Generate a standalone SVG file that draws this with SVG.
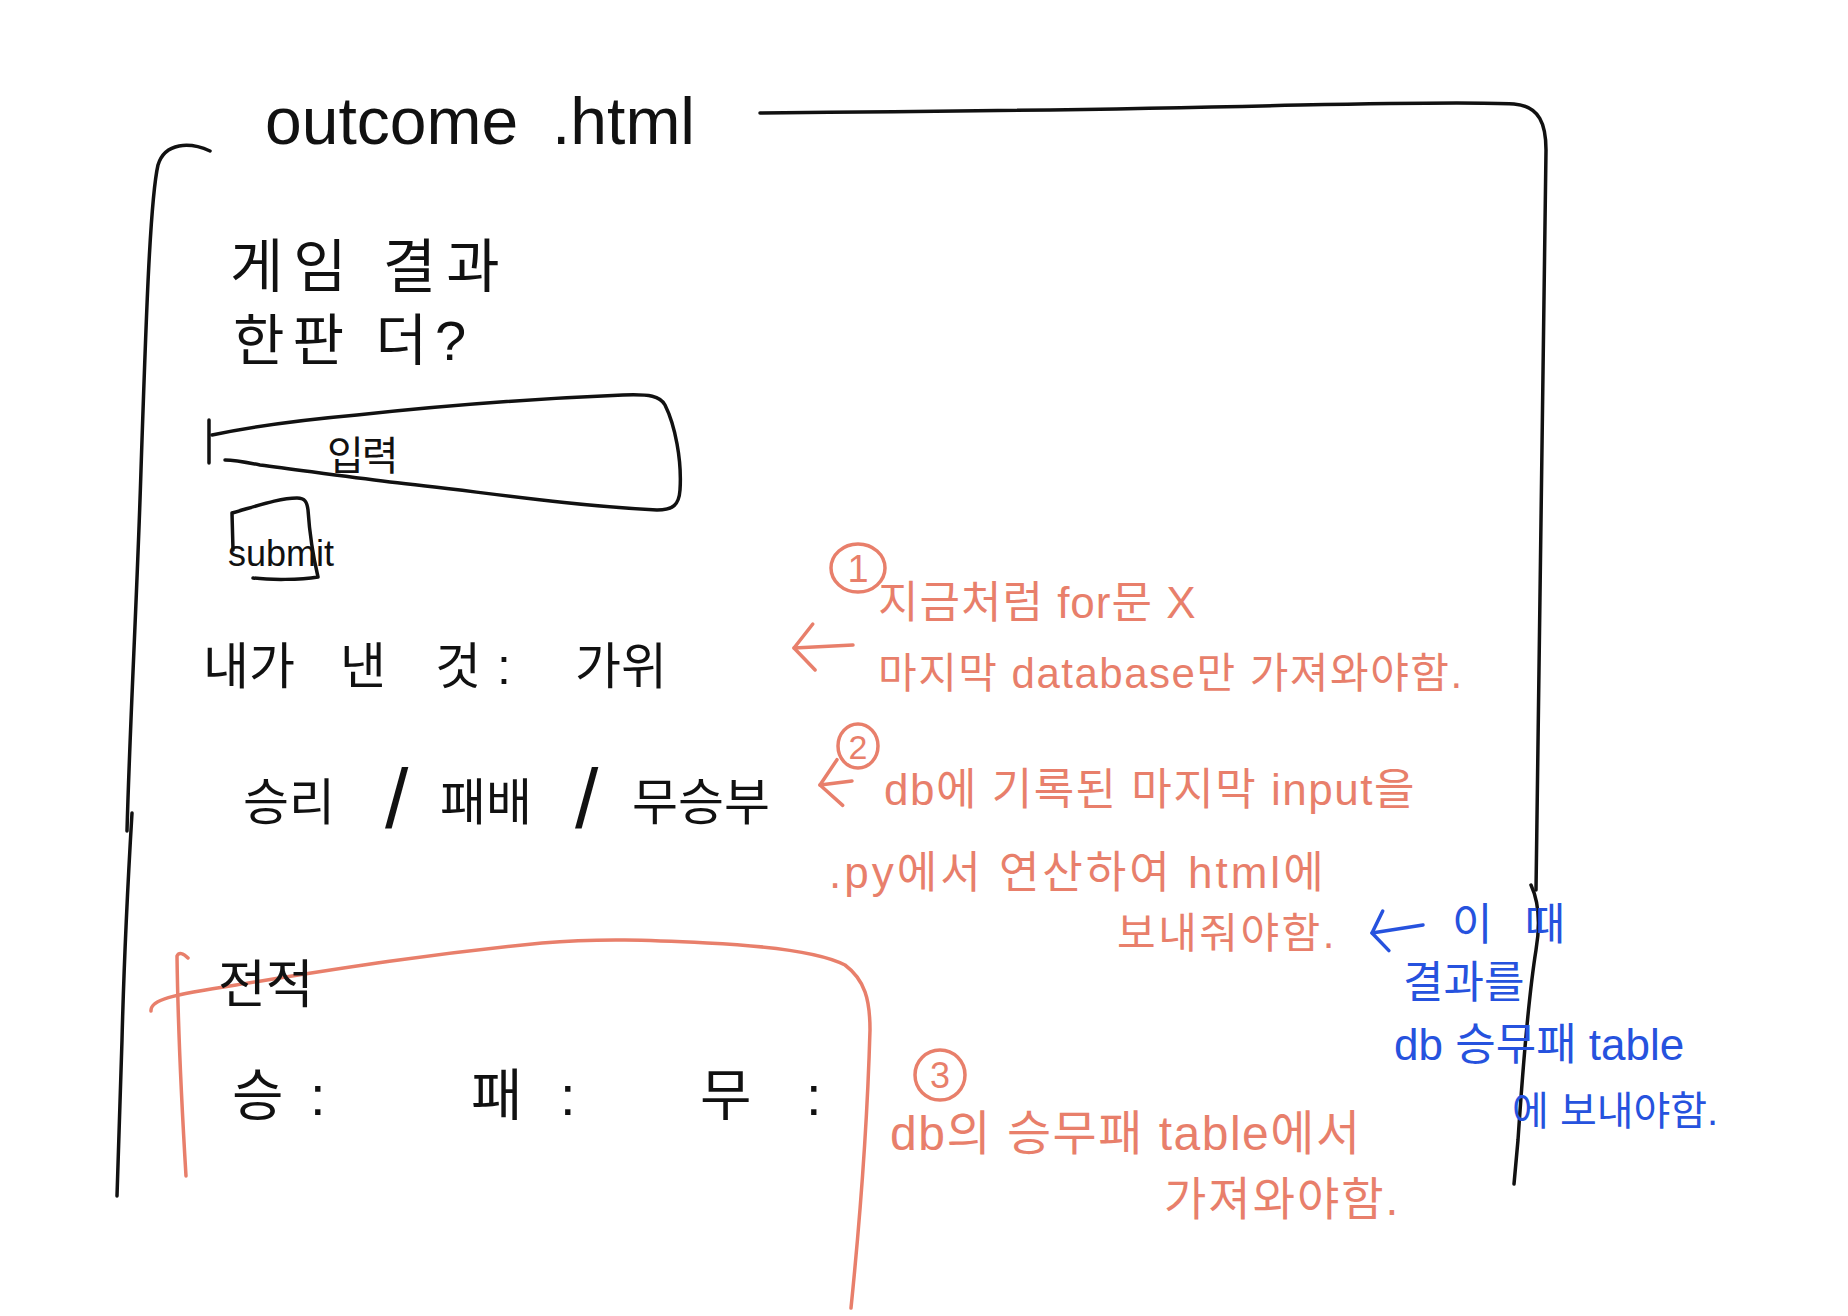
<svg xmlns="http://www.w3.org/2000/svg" width="1848" height="1316" viewBox="0 0 1848 1316">
<style>
.ink{fill:none;stroke:#111;stroke-width:3.5;stroke-linecap:round;stroke-linejoin:round}
.red{fill:none;stroke:#E87F6B;stroke-width:3.5;stroke-linecap:round;stroke-linejoin:round}
.blue{fill:none;stroke:#2652DE;stroke-width:3.5;stroke-linecap:round;stroke-linejoin:round}
text{font-family:"Liberation Sans","Noto Sans CJK KR",sans-serif}
.tb{fill:#111}
.tr{fill:#E87F6B}
.tbl{fill:#2652DE}
</style>
<defs>
<marker id="headRed" viewBox="0 0 24 50" refX="22" refY="25" markerWidth="24" markerHeight="50" markerUnits="userSpaceOnUse" orient="auto" overflow="visible">
<path d="M2,2 L22,25 L2,48" fill="none" stroke="#E87F6B" stroke-width="3.5" stroke-linecap="round" stroke-linejoin="round"/>
</marker>
<marker id="headBlue" viewBox="0 0 18 44" refX="16" refY="22" markerWidth="18" markerHeight="44" markerUnits="userSpaceOnUse" orient="auto" overflow="visible">
<path d="M2,2 L16,22 L2,42" fill="none" stroke="#2652DE" stroke-width="3.5" stroke-linecap="round" stroke-linejoin="round"/>
</marker>
</defs>
<rect width="1848" height="1316" fill="#fff"/>

<g id="page-frame">
<path class="ink" d="M210,151 C190,142 165,142 158,165 C150,200 146,320 141,470 C137,600 130,720 127,831"/>
<path class="ink" d="M132,813 C128,880 124,960 122,1040 C120,1100 118,1150 117,1196"/>
<path class="ink" d="M760,113 C900,112 1100,110 1300,105 C1400,103 1480,102 1514,104 C1540,106 1546,125 1546,150 C1545,300 1540,600 1536,890"/>
<path class="ink" d="M1531,885 C1538,900 1541,920 1536,950 C1528,1000 1522,1080 1518,1140 L1514,1184"/>
</g>

<g id="title">
<text class="tb" x="265" y="144" font-size="66">outcome</text>
<text class="tb" x="552" y="144" font-size="66">.html</text>
</g>

<g id="heading">
<text class="tb" x="230" y="287" font-size="58" letter-spacing="10">게임 결과</text>
<text class="tb" x="233" y="360" font-size="56" letter-spacing="8">한판 더?</text>
</g>

<g id="input-field">
<path class="ink" d="M209,420 L209,463"/>
<path class="ink" d="M212,435 C260,425 300,420 357,415 C450,405 550,398 623,395 C650,394 660,396 665,405 C675,425 682,460 680,490 C679,505 673,510 657,510 C560,505 470,490 390,482 C340,476 300,470 260,465 C245,462 235,460 225,460"/>
<text class="tb" x="327" y="470" font-size="40" letter-spacing="-2">입력</text>
</g>

<g id="submit-button">
<path class="ink" d="M233,550 L232,513 C260,505 280,498 297,498 C305,498 307,502 308,510 C310,540 314,560 318,577 C300,580 270,580 253,578"/>
<text class="tb" x="228" y="566" font-size="36">submit</text>
</g>

<g id="my-choice">
<text class="tb" y="684" font-size="50"><tspan x="203">내가</tspan><tspan x="340">낸</tspan><tspan x="435">것</tspan><tspan x="497">:</tspan><tspan x="575">가위</tspan></text>
</g>

<g id="result">
<text class="tb" y="820" font-size="50"><tspan x="243">승리</tspan><tspan x="440">패배</tspan><tspan x="632">무승부</tspan></text>
<text class="tb" y="828" font-size="84"><tspan x="385">/</tspan><tspan x="575">/</tspan></text>
</g>

<g id="record-box">
<path class="red" d="M188,958 C183,953 179,952 177,956 C178,1030 182,1110 186,1176"/>
<path class="red" d="M151,1011 C150,1000 170,995 236,985 C330,970 420,955 542,943 C600,938 650,940 707,943 C770,946 820,952 845,965 C865,980 870,1000 870,1030 C868,1100 862,1200 851,1308"/>
<text class="tb" x="218" y="1003" font-size="52">전적</text>
<text class="tb" y="1115" font-size="56"><tspan x="232">승</tspan><tspan x="310">:</tspan><tspan x="471">패</tspan><tspan x="560">:</tspan><tspan x="700">무</tspan><tspan x="806">:</tspan></text>
</g>

<g id="note-1">
<ellipse class="red" cx="858" cy="568" rx="27" ry="24"/>
<text class="tr" x="858" y="582" font-size="38" text-anchor="middle">1</text>
<text class="tr" x="878" y="618" font-size="44" letter-spacing="1">지금처럼 for문 X</text>
<text class="tr" x="878" y="688" font-size="42" letter-spacing="1.5">마지막 database만 가져와야함.</text>
</g>

<g id="note-2">
<ellipse class="red" cx="858" cy="746" rx="20" ry="22"/>
<text class="tr" x="858" y="759" font-size="34" text-anchor="middle">2</text>
<text class="tr" x="884" y="805" font-size="44" letter-spacing="1.5">db에 기록된 마지막 input을</text>
<text class="tr" x="829" y="888" font-size="44" letter-spacing="3">.py에서 연산하여 html에</text>
<text class="tr" x="1117" y="948" font-size="42" letter-spacing="2.5">보내줘야함.</text>
</g>

<g id="note-blue">
<text class="tbl" x="1452" y="940" font-size="44" letter-spacing="10">이 때</text>
<text class="tbl" x="1403" y="998" font-size="44">결과를</text>
<text class="tbl" x="1394" y="1060" font-size="44">db 승무패 table</text>
<text class="tbl" x="1512" y="1125" font-size="40">에 보내야함.</text>
</g>

<g id="note-3">
<circle class="red" cx="940" cy="1075" r="25"/>
<text class="tr" x="940" y="1088" font-size="36" text-anchor="middle">3</text>
<text class="tr" x="890" y="1150" font-size="48" letter-spacing="1.5">db의 승무패 table에서</text>
<text class="tr" x="1164" y="1215" font-size="46" letter-spacing="2">가져와야함.</text>
</g>

<g id="connectors">
<path class="red" d="M853,645 L794,648" marker-end="url(#headRed)"/>
<path class="red" d="M852,781 L820,785" marker-end="url(#headRed)"/>
<path class="blue" d="M1423,925 L1372,933" marker-end="url(#headBlue)"/>
</g>
</svg>
